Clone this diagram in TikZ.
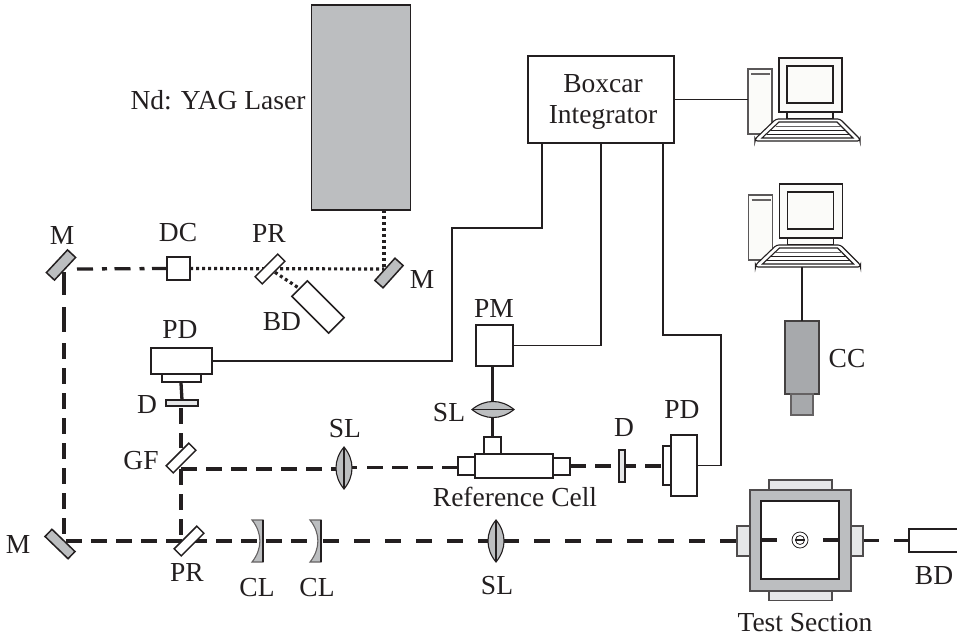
\documentclass[tikz,border=0pt]{standalone}
\usepackage{fontspec}
\setmainfont{Liberation Serif}
\pgfdeclarelayer{beam}
\pgfsetlayers{beam,main}
\definecolor{ink}{HTML}{231F20}
\definecolor{gA}{HTML}{BCBEC0}
\definecolor{gB}{HTML}{A7A9AC}
\definecolor{gC}{HTML}{E6E7E8}
\definecolor{off}{HTML}{FBFBF9}
\tikzset{
  x=1pt,y=-1pt,
  bx/.style 2 args={draw=ink,line width=1.5pt,fill=white,inner sep=0pt,outer sep=0pt,minimum width=#1pt,minimum height=#2pt},
  lab/.style={anchor=base,inner sep=0pt,yshift=-1pt,text=ink,font=\fontsize{27.5}{30}\selectfont},
  wire/.style={draw=ink,line width=1.5pt},
  dbeam/.style={draw=ink,line width=3.3pt},
  d25/.style={dbeam,dash pattern=on 16pt off 9pt},
  d31/.style={dbeam,dash pattern=on 16pt off 15pt},
  ddot/.style={draw=ink,line width=3.2pt,dash pattern=on 3pt off 3pt},
  ddash/.style={dbeam,dash pattern=on 16pt off 9pt on 5pt off 7.5pt},
  vlens/.pic={
    \path[draw=ink,line width=1.1pt,fill=gA] (0,-21) .. controls (10.7,-8) and (10.7,8) .. (0,21) .. controls (-10.7,8) and (-10.7,-8) .. (0,-21) -- cycle;
    \draw[ink,line width=1.1pt] (0,-21) -- (0,21);
  },
  cyl/.pic={
    \path[draw=ink!70,line width=1.1pt,fill=gA] (-11,-21) .. controls (-0.5,-8) and (-0.5,8) .. (-11,21) -- (0,21) -- (0,-21) -- cycle;
    \draw[ink,line width=1.3pt] (0,-21) -- (0,21);
  },
  computer/.pic={
    \path[draw=ink!75,line width=1.1pt,fill=off] (0,0) rectangle (24,65);
    \node[inner sep=0pt] (-tower) at (12,32.5) [minimum width=24pt,minimum height=65pt] {};
    \draw[ink!70,line width=1.8pt] (3,5) -- (22,5);
    \path[draw=ink,line width=1.1pt,fill=off] (31,-11) rectangle (94,43);
    \path[draw=ink,line width=1.1pt,fill=off] (39,-3) rectangle (85,34);
    \path[draw=ink,line width=1.1pt,fill=off] (39,43) rectangle (85,50);
    \path[draw=ink,line width=1.1pt,fill=white,rounded corners=2.5pt] (28,50) -- (92,50) -- (112,70) -- (112,72) -- (7,72) -- (7,70) -- cycle;
    \draw[ink,line width=1.1pt] (31,53) -- (89,53) -- (105,69) -- (14,69) -- cycle;
    \draw[ink!70,line width=1.6pt] (27.5,57.5) -- (93,57.5);
    \draw[ink,line width=1.1pt] (22.5,61.5) -- (97,61.5);
    \draw[ink,line width=1.1pt] (18.5,65.5) -- (101.5,65.5);
    \coordinate (-kb) at (53.5,72);
  }
}
\begin{document}
\begin{tikzpicture}
\useasboundingbox (0,0) rectangle (957,637);

% sources and boxes
\node[bx={99}{205},fill=gA] (laser) at (361,107.5) {};
\node[bx={146}{87}] (boxcar) at (601,99.5) {};
\node[lab] (boxT1) at (603,91) {Boxcar};
\node[lab] (boxT2) at (603,122) {Integrator};

\coordinate (bxa) at (542,143);
\coordinate (bxb) at (601,143);
\coordinate (bxc) at (663,143);
\coordinate (wL) at (452,228);
\coordinate (wR) at (721,335);

% mirrors and plates
\node[bx={30}{11},fill=gA,rotate=48] (mTR) at (389,273) {};
\node[bx={31}{11},fill=gA,rotate=47] (mTL) at (61,265) {};
\node[bx={32}{10},fill=gA,rotate=-44] (mBL) at (60,544) {};
\node[bx={32}{10},rotate=45] (prT) at (270,269) {};
\node[bx={32}{10},rotate=45] (prB) at (189,541) {};
\node[bx={32}{10},rotate=45] (gf) at (181,458) {};
\node[bx={52}{22},rotate=-45] (bdT) at (318,307) {};
\node[bx={23}{23}] (dc) at (178.5,268.5) {};

% left detector
\node[bx={61}{26}] (pdL) at (181.5,361) {};
\node[bx={39}{8}] (pdLs) at (181.5,378) {};
\node[bx={32}{6},fill=gC] (dL) at (182,403) {};

% reference cell
\node[bx={78}{24}] (cell) at (514,466) {};
\node[bx={17}{18}] (stubL) at (466.5,466) {};
\node[bx={17}{17}] (stubR) at (561.5,466.5) {};
\node[bx={17}{17}] (stubT) at (492.5,445.5) {};
\node[bx={37}{41}] (pm) at (494.5,345.5) {};
\node[bx={6}{32},fill=gC] (dR) at (622,466) {};
\node[bx={8}{39},fill=white] (pdRs) at (667,465.5) {};
\node[bx={26}{61}] (pdR) at (684,465.5) {};

% lenses
\pic (slA) at (344,468) {vlens};
\pic (slB) at (496,541) {vlens};
\pic[rotate=90] (slC) at (493,409.5) {vlens};
\pic (clA) at (263,541) {cyl};
\pic (clB) at (321,541) {cyl};

% test section
\node[bx={63}{10},fill=gC,draw=ink!80] (tsT) at (800.5,485) {};
\node[bx={63}{10},fill=gC,draw=ink!80] (tsB) at (800.5,595.5) {};
\node[bx={13}{30},fill=gC,draw=ink!80] (tsL) at (743.5,541) {};
\node[bx={12}{30},fill=gC,draw=ink!80] (tsR) at (857,541) {};
\node[bx={101}{101},fill=gA,draw=ink!80] (tsO) at (800.5,540.5) {};
\node[bx={78}{78}] (tsI) at (800,540) {};
\node[bx={51}{23}] (bdR) at (934.5,540.5) {};
\node[circle,draw=ink,line width=.8pt,inner sep=0pt,minimum size=16pt] (tgt) at (800,540) {};
\node[circle,draw=ink,line width=.8pt,inner sep=0pt,minimum size=9pt] (tgtI) at (800,540) {};
\draw[ink,line width=2.2pt] (tgtI.west) -- (tgtI.east);

% computers and camera
\pic (pcA) at (748,69) {computer};
\pic (pcB) at (748.5,195) {computer};
\node[bx={34}{73},fill=gB,draw=ink!85] (cc) at (802,357.5) {};
\node[bx={22}{21},fill=gB,draw=ink!70] (ccs) at (802,404.5) {};

% inner beams of the test section
\coordinate (inA) at (777,540);
\coordinate (inB) at (823,540);
\draw[ink,line width=3.3pt] (tsI.west |- inA) -- (inA);
\draw[ink,line width=3.3pt] (inB) -- (tsI.east |- inB);

% electrical connectors
\draw[wire] (boxcar.east) -- (boxcar.east -| pcA-tower.west);
\draw[wire] (pcB-kb) -- (cc.north);
\draw[wire] (pdL.east) -| (wL) -| (bxa);
\draw[wire] (pm.east) -| (bxb);
\draw[wire] (pdR.east) -| (wR) -| (bxc);

% beams
\coordinate (vA) at (64,272);
\coordinate (vB) at (64,295);
\coordinate (vC) at (64,307);
\coordinate (vD) at (64,332);
\coordinate (vE) at (64,343);
\coordinate (vF) at (64,541);
\coordinate (hA) at (66,541);
\coordinate (hB) at (308,541);
\coordinate (hC) at (323,541);
\coordinate (hD) at (494,541);
\coordinate (hE) at (503,541);
\coordinate (hF) at (737,541);
\coordinate (rA) at (181,469);
\coordinate (rB) at (344,469);
\coordinate (rC) at (351,467.7);
\coordinate (rCe) at (357,467.7);
\coordinate (rD) at (367,467.7);
\coordinate (rE) at (458,467.7);
\coordinate (rF) at (570,466);
\coordinate (rG) at (663,466);
\coordinate (dcW) at (77,269);
\coordinate (dTop) at (181,383);
\coordinate (dMid) at (181,408);
\coordinate (dGf) at (181,448);
\coordinate (dBot) at (181,541);
\coordinate (tA) at (863,540.5);
\coordinate (tB) at (909,540.5);
\coordinate (lOut) at (384,210);
\coordinate (mHit) at (384,269);
\begin{pgfonlayer}{beam}
  \draw[dbeam] (vA) -- (vB);
  \draw[dbeam] (vC) -- (vD);
  \draw[d25] (vE) -- (vF);
  \draw[d25] (hA) -- (hB);
  \draw[d31] (hC) -- (hD);
  \draw[d31] (hE) -- (hF);
  \draw[d25] (rA) -- (rB);
  \draw[dbeam] (rC) -- (rCe);
  \draw[d25] (rD) -- (rE);
  \draw[d25] (rF) -- (rG);
  \draw[d25] (dTop) -- (dL.north);
  \draw[d25] (dMid) -- (dGf);
  \draw[d25] (rA) -- (dBot);
  \draw[ddash] (dcW) -- (dc.west);
  \draw[ddot] (lOut) -- (mHit);
  \draw[ddot] (dc.east) -- (mHit);
  \draw[ddot] (prT.center) -- (bdT.west);
  \draw[d31] (tA) -- (tB);
  \draw[ink,line width=3.3pt] (stubT.north |- pm.south) -- (stubT.north);
\end{pgfonlayer}

% labels
\node[lab] (tYag) at (218,108) {Nd: YAG Laser};
\node[lab] (tMa) at (62,243) {M};
\node[lab] (tDC) at (178,240) {DC};
\node[lab] (tPRa) at (269,241) {PR};
\node[lab] (tMb) at (422,287) {M};
\node[lab] (tBDa) at (282,329) {BD};
\node[lab] (tPDa) at (180,337) {PD};
\node[lab] (tDa) at (147,412) {D};
\node[lab] (tGF) at (141,468) {GF};
\node[lab] (tSLa) at (345,436) {SL};
\node[lab] (tMc) at (18,552) {M};
\node[lab] (tPRb) at (187,580) {PR};
\node[lab] (tCLa) at (257,595) {CL};
\node[lab] (tCLb) at (317,595) {CL};
\node[lab] (tSLb) at (497,593) {SL};
\node[lab] (tPM) at (494,316) {PM};
\node[lab] (tSLc) at (449,420) {SL};
\node[lab] (tDb) at (624,435) {D};
\node[lab] (tPDb) at (682,417) {PD};
\node[lab] (tRef) at (515,505) {Reference Cell};
\node[lab] (tCC) at (847,366) {CC};
\node[lab] (tBDb) at (934,583) {BD};
\node[lab] (tTS) at (805,630) {Test Section};
\end{tikzpicture}
\end{document}
